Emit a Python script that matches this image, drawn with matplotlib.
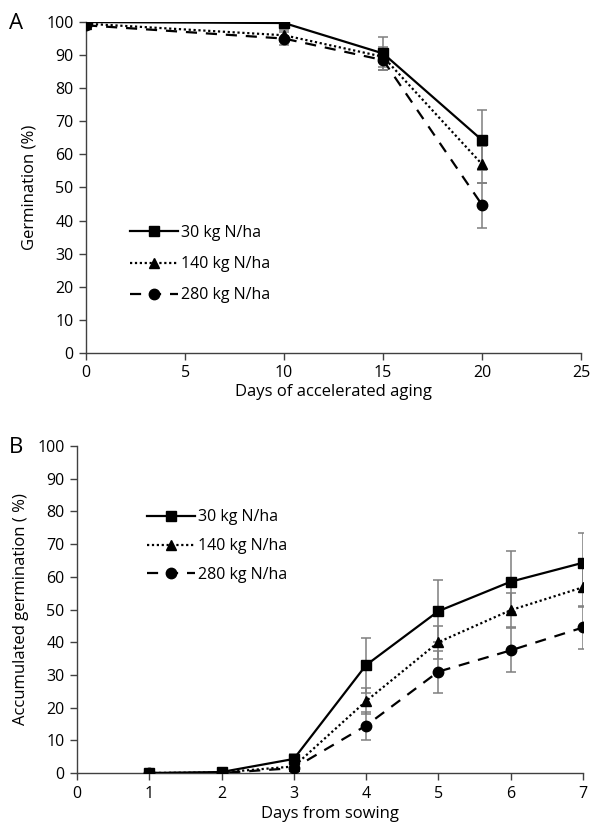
import matplotlib.pyplot as plt

plt.rcParams['font.family'] = ['Open Sans', 'DejaVu Sans']

labels = ["30 kg N/ha", "140 kg N/ha", "280 kg N/ha"]

# panel A: germination after accelerated aging
aging_days = [0, 10, 15, 20]
aging_30 = [100, 99.7, 90.5, 64.3]
aging_140 = [99.5, 96.0, 89.5, 57.0]
aging_280 = [99.0, 95.0, 88.5, 44.7]
aging_30_err = [0, 0.5, 5.0, 9.0]
aging_140_err = [0, 1.5, 3.0, 5.5]
aging_280_err = [0, 2.0, 3.0, 6.8]

# panel B: accumulated germination over days from sowing
sow_days = [1, 2, 3, 4, 5, 6, 7]
sow_30 = [0, 0.3, 4.3, 33.0, 49.5, 58.5, 64.3]
sow_140 = [0, 0.2, 2.0, 22.0, 40.0, 49.8, 56.8]
sow_280 = [0, 0.0, 1.5, 14.5, 31.0, 37.5, 44.5]
sow_30_err = [0, 0.3, 1.5, 8.4, 9.4, 9.3, 9.0]
sow_140_err = [0, 0.2, 1.0, 4.0, 5.0, 5.3, 6.0]
sow_280_err = [0, 0.0, 0.8, 4.3, 6.4, 6.7, 6.5]

styles = [dict(ls='-', marker='s', ms=7, lw=1.6),
          dict(ls=(0, (1, 1.2)), marker='^', ms=7, lw=1.6),
          dict(ls=(0, (5, 4)), marker='o', ms=7.5, lw=1.6)]

fig = plt.figure(figsize=(5.9, 8.22), dpi=100)
axA = fig.add_axes([0.146, 0.5706, 0.839, 0.4026])
axB = fig.add_axes([0.1305, 0.0596, 0.8575, 0.3978])


def draw(ax, x, series, errs):
    for y, e, st, lab in zip(series, errs, styles, labels):
        ax.errorbar(x, y, yerr=e, fmt='none', ecolor='#7f7f7f', elinewidth=1.1,
                    capsize=3.5, capthick=1.1, zorder=2)
        ax.plot(x, y, color='black', label=lab, zorder=3, **st)
    for s in ['top', 'right']:
        ax.spines[s].set_visible(False)
    for s in ['left', 'bottom']:
        ax.spines[s].set_color('#404040')
        ax.spines[s].set_linewidth(1.0)
    ax.tick_params(direction='out', length=5, width=1, color='#404040',
                   labelsize=11.5, pad=4)
    ax.set_ylim(0, 100)
    ax.set_yticks(range(0, 101, 10))


draw(axA, aging_days, [aging_30, aging_140, aging_280],
     [aging_30_err, aging_140_err, aging_280_err])
axA.set_xlim(0, 25)
axA.set_xticks(range(0, 26, 5))
axA.set_xlabel("Days of accelerated aging", fontsize=12, labelpad=2)
axA.set_ylabel("Germination (%)", fontsize=12, labelpad=6)
axA.legend(loc='upper left', bbox_to_anchor=(0.06, 0.43), frameon=False,
           fontsize=11.5, handlelength=3.0, handletextpad=0.2, labelspacing=0.95)

draw(axB, sow_days, [sow_30, sow_140, sow_280],
     [sow_30_err, sow_140_err, sow_280_err])
axB.set_xlim(0, 7)
axB.set_xticks(range(0, 8))
axB.set_xlabel("Days from sowing", fontsize=12, labelpad=3)
axB.set_ylabel("Accumulated germination ( %)", fontsize=12, labelpad=6)
axB.legend(loc='upper left', bbox_to_anchor=(0.11, 0.85), frameon=False,
           fontsize=11.5, handlelength=3.0, handletextpad=0.2, labelspacing=0.8)

fig.text(0.015, 0.972, "A", fontsize=16, va='center')
fig.text(0.015, 0.455, "B", fontsize=16, va='center')

fig.savefig("out.png", dpi=100)
